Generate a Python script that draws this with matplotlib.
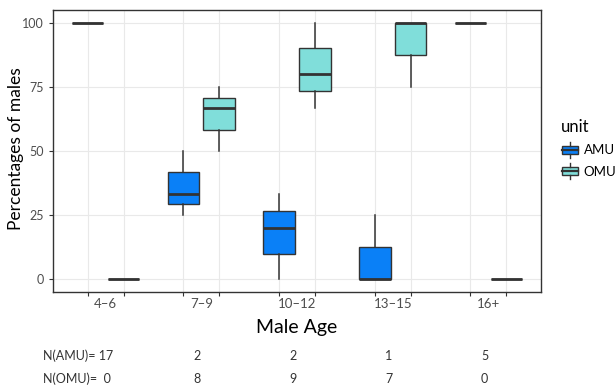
import matplotlib
matplotlib.use("Agg")
import matplotlib.pyplot as plt
from matplotlib.legend_handler import HandlerBase
from matplotlib.patches import Rectangle, Patch
from matplotlib.lines import Line2D
from matplotlib.transforms import blended_transform_factory
import numpy as np

plt.rcParams['font.family'] = ['Lato', 'DejaVu Sans']

age_groups = ["4\u20136", "7\u20139", "10\u201312", "13\u201315", "16+"]
units = ["AMU", "OMU"]

amu_low = [100, 25, 0, 0, 100]
amu_q1 = [100, 29.2, 10, 0, 100]
amu_med = [100, 33.3, 20, 0, 100]
amu_q3 = [100, 41.7, 26.7, 12.5, 100]
amu_high = [100, 50, 33.3, 25, 100]

omu_low = [0, 50, 66.7, 75, 0]
omu_q1 = [0, 58.3, 73.3, 87.5, 0]
omu_med = [0, 66.7, 80, 100, 0]
omu_q3 = [0, 70.8, 90, 100, 0]
omu_high = [0, 75, 100, 100, 0]

n_amu = [17, 2, 2, 1, 5]
n_omu = [0, 8, 9, 7, 0]

colors = {"AMU": "#0A80F7", "OMU": "#80DEDA"}
edge = "#333333"

fig = plt.figure(figsize=(6.16, 3.88), dpi=100)
ax = fig.add_axes([53/616, 1-292/388, (541-53)/616, (292-10)/388])

dodge = 0.375
bw = 0.33
centers = np.arange(1, len(age_groups)+1)

def stats(lo, q1, med, q3, hi):
    return [dict(whislo=a, q1=b, med=c, q3=d, whishi=e, fliers=[])
            for a, b, c, d, e in zip(lo, q1, med, q3, hi)]

series = [
    ("AMU", stats(amu_low, amu_q1, amu_med, amu_q3, amu_high), -dodge/2),
    ("OMU", stats(omu_low, omu_q1, omu_med, omu_q3, omu_high), dodge/2),
]
positions_all = []
for name, st, off in series:
    pos = centers + off
    positions_all.extend(pos)
    ax.bxp(st, positions=pos, widths=bw, patch_artist=True, showcaps=False,
           showfliers=False,
           boxprops=dict(facecolor=colors[name], edgecolor=edge, linewidth=1.0),
           whiskerprops=dict(color=edge, linewidth=1.1),
           medianprops=dict(color=edge, linewidth=2.0, solid_capstyle='butt'),
           manage_ticks=False, zorder=3)

ax.set_xlim(0.45, 5.55)
ax.set_ylim(-5, 105)
ax.set_yticks([0, 25, 50, 75, 100])
ax.set_xticks(sorted(positions_all))
ax.set_xticklabels([])
ax.grid(True, color="#e9e9e9", linewidth=0.8, zorder=0)
ax.set_axisbelow(True)
ax.tick_params(axis='both', colors="#333333", length=3, width=0.8,
               labelsize=9, labelcolor="#4d4d4d")
ax.tick_params(axis='x', length=3.2)
for s in ax.spines.values():
    s.set_color("#333333")
    s.set_linewidth(1.0)

for c, lab in zip(centers, age_groups):
    ax.text(c, 1-304/388, lab, transform=blended_transform_factory(ax.transData, fig.transFigure),
            ha='center', va='center', fontsize=9.5, color="#4d4d4d")

ax.set_ylabel("Percentages of males", fontsize=12.5, color="black", va='center')
ax.yaxis.set_label_coords((16-53)/488, 0.507)
ax.text(0.5, 1-328/388, "Male Age",
        transform=blended_transform_factory(ax.transAxes, fig.transFigure),
        ha='center', va='center', fontsize=14)

# N counts
bt = blended_transform_factory(ax.transData, fig.transFigure)
for i, (na, no) in enumerate(zip(n_amu, n_omu)):
    if i == 0:
        fig.text(43/616, 1-356/388, f"N(AMU)= {na}", ha='left', va='center',
                 fontsize=9, color="#333333")
        fig.text(43/616, 1-379/388, f"N(OMU)=  {no}", ha='left', va='center',
                 fontsize=9, color="#333333")
    else:
        ax.text(centers[i]-0.04, 1-356/388, str(na), transform=bt, ha='center',
                va='center', fontsize=9, color="#333333")
        ax.text(centers[i]-0.04, 1-379/388, str(no), transform=bt, ha='center',
                va='center', fontsize=9, color="#333333")

class BoxHandler(HandlerBase):
    def create_artists(self, legend, orig_handle, xdescent, ydescent, width,
                       height, fontsize, trans):
        w = width * 0.9
        x0 = -xdescent + (width - w) / 2
        y0 = -ydescent
        r = Rectangle((x0, y0 + height*0.15), w, height*0.7,
                      facecolor=orig_handle.get_facecolor(), edgecolor=edge,
                      linewidth=1.0, transform=trans)
        xm = x0 + w/2
        l1 = Line2D([xm, xm], [y0 - height*0.15, y0 + height*0.15], color=edge,
                    linewidth=1.0, transform=trans)
        l2 = Line2D([xm, xm], [y0 + height*0.85, y0 + height*1.15], color=edge,
                    linewidth=1.0, transform=trans)
        l3 = Line2D([x0, x0 + w], [y0 + height/2]*2, color=edge, linewidth=1.6,
                    transform=trans)
        return [r, l1, l2, l3]

handles = [Patch(facecolor=colors[u]) for u in units]
leg = fig.legend(handles, units, title="unit", loc='upper left',
                 bbox_to_anchor=(556/616, 1-114/388), frameon=False,
                 handler_map={Patch: BoxHandler()}, fontsize=9.5,
                 title_fontsize=12, handlelength=1.35, handleheight=1.05,
                 handletextpad=0.35, labelspacing=0.65, borderaxespad=0,
                 alignment='left')

fig.savefig("out.png", dpi=100)
